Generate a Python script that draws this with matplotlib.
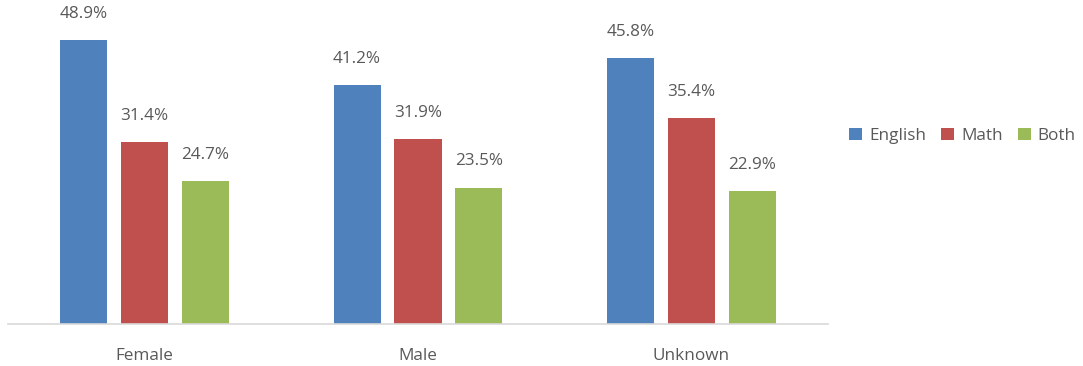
import matplotlib.pyplot as plt
import numpy as np

plt.rcParams['font.family'] = ['Open Sans', 'DejaVu Sans']

groups = ["Female", "Male", "Unknown"]
series = ["English", "Math", "Both"]
english = [48.9, 41.2, 45.8]
math_pct = [31.4, 31.9, 35.4]
both = [24.7, 23.5, 22.9]
colors = ["#4F81BD", "#C0504D", "#9BBB59"]
text_color = "#595959"

fig = plt.figure(figsize=(10.83, 3.66), dpi=100)
ax = fig.add_axes([8 / 1083, 42 / 366, 820 / 1083, 324 / 366])

x = np.arange(len(groups))
width = 0.172
step = 0.223
for i, (name, vals) in enumerate(zip(series, [english, math_pct, both])):
    pos = x + (i - 1) * step
    bars = ax.bar(pos, vals, width, color=colors[i], label=name)
    for b, v in zip(bars, vals):
        ax.annotate(f"{v:.1f}%", (b.get_x() + b.get_width() / 2, v),
                    xytext=(0, 13), textcoords="offset points",
                    ha="center", va="bottom", fontsize=12.3, color=text_color)

ax.set_xlim(-0.5, 2.5)
ax.set_ylim(0, 55.8)
ax.set_xticks(x)
ax.set_xticklabels(groups, fontsize=12.3, color=text_color)
ax.tick_params(axis="x", length=0, pad=17)
ax.set_yticks([])
for s in ["top", "right", "left"]:
    ax.spines[s].set_visible(False)
ax.spines["bottom"].set_color("#D9D9D9")
ax.spines["bottom"].set_linewidth(1.2)

fig.legend(loc="center left", bbox_to_anchor=(834 / 1083, 1 - 136 / 366),
           ncol=3, frameon=False, fontsize=12.3, handlelength=0.75,
           handleheight=0.75, handletextpad=0.4, columnspacing=0.9,
           labelcolor=text_color)

fig.savefig("out.png", dpi=100)
